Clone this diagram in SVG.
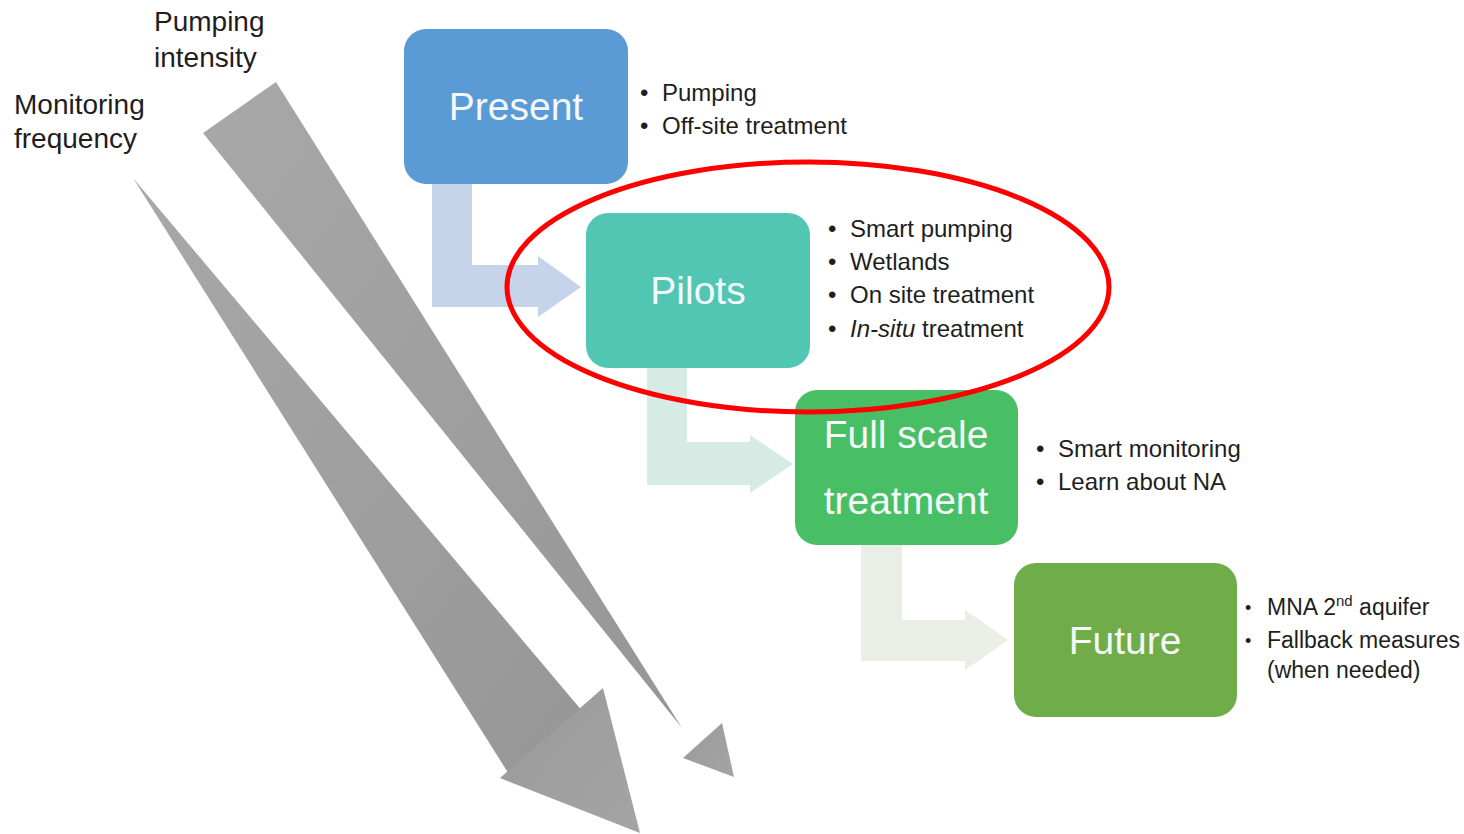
<svg xmlns="http://www.w3.org/2000/svg" width="1464" height="834" viewBox="0 0 1464 834">
<defs>
<linearGradient id="gshaft" x1="0" y1="0" x2="1" y2="1">
<stop offset="0" stop-color="#a8a8a8"/>
<stop offset="1" stop-color="#969696"/>
</linearGradient>
<linearGradient id="ghead" x1="0" y1="0" x2="1" y2="1">
<stop offset="0" stop-color="#9a9a9a"/>
<stop offset="1" stop-color="#a4a4a4"/>
</linearGradient>
</defs>
<style>
.lbl{font-family:"Liberation Sans",Arial,sans-serif;fill:#1e1e1e}
.big{font-size:28px}
.bul{font-size:24px}
.fut{font-size:23px}
.box{font-family:"Liberation Sans",Arial,sans-serif;font-size:39px;fill:#f4f8fb;text-anchor:middle}
.shaft{fill:url(#gshaft)}
.head{fill:url(#ghead)}
</style>
<rect width="1464" height="834" fill="#ffffff"/>

<g id="trend-arrows">
<g id="monitoring-arrow">
<polygon class="shaft" points="133,178 583,712 512,779"/>
<polygon class="head" points="500,778 603,688 640,833"/>
</g>
<g id="pumping-arrow">
<polygon class="shaft" points="203,133 276,82 682,728"/>
<polygon class="head" points="683,758 722,723 734,777"/>
</g>
</g>

<g id="labels">
<text class="lbl big" x="154" y="31">Pumping</text>
<text class="lbl big" x="154" y="67">intensity</text>
<text class="lbl big" x="14" y="114">Monitoring</text>
<text class="lbl big" x="14" y="148">frequency</text>
</g>

<g id="connectors">
<path d="M432,184 H472 V265 H538 V256 L581,287 L538,317 V307 H432 Z" fill="#c5d4ea"/>
<path d="M647,368 H687 V442 H750 V435 L793,464 L750,493 V485 H647 Z" fill="#d6ebe4"/>
<path d="M861,545 H902 V620 H965 V610 L1008,640 L965,670 V661 H861 Z" fill="#e9efe6"/>
</g>

<g id="node-present">
<rect x="404" y="29" width="224" height="155" rx="22" fill="#5b9bd5"/>
<text class="box" x="516" y="120">Present</text>
<text class="lbl bul" x="640" y="101">•</text>
<text class="lbl bul" x="662" y="101">Pumping</text>
<text class="lbl bul" x="640" y="134">•</text>
<text class="lbl bul" x="662" y="134">Off-site treatment</text>
</g>

<g id="node-pilots">
<rect x="586" y="213" width="224" height="155" rx="22" fill="#51c7b3"/>
<text class="box" x="698" y="304">Pilots</text>
<text class="lbl bul" x="828" y="237">•</text>
<text class="lbl bul" x="850" y="237">Smart pumping</text>
<text class="lbl bul" x="828" y="270">•</text>
<text class="lbl bul" x="850" y="270">Wetlands</text>
<text class="lbl bul" x="828" y="303">•</text>
<text class="lbl bul" x="850" y="303">On site treatment</text>
<text class="lbl bul" x="828" y="337">•</text>
<text class="lbl bul" x="850" y="337"><tspan font-style="italic">In-situ</tspan> treatment</text>
</g>

<g id="node-fullscale">
<rect x="795" y="390" width="223" height="155" rx="22" fill="#48bf64"/>
<text class="box" x="906" y="448">Full scale</text>
<text class="box" x="906" y="514" font-size="41">treatment</text>
<text class="lbl bul" x="1036" y="457">•</text>
<text class="lbl bul" x="1058" y="457">Smart monitoring</text>
<text class="lbl bul" x="1036" y="490">•</text>
<text class="lbl bul" x="1058" y="490">Learn about NA</text>
</g>

<g id="node-future">
<rect x="1014" y="563" width="223" height="154" rx="22" fill="#70ac47"/>
<text class="box" x="1125" y="654">Future</text>
<text class="lbl" x="1245" y="614" font-size="18">•</text>
<text class="lbl fut" x="1267" y="615">MNA 2<tspan font-size="15" dy="-9">nd</tspan><tspan dy="9"> aquifer</tspan></text>
<text class="lbl" x="1245" y="647" font-size="18">•</text>
<text class="lbl fut" x="1267" y="648">Fallback measures</text>
<text class="lbl fut" x="1267" y="678">(when needed)</text>
</g>

<g id="highlight">
<ellipse cx="808" cy="287" rx="301" ry="125" fill="none" stroke="#ff0000" stroke-width="5"/>
</g>
</svg>
